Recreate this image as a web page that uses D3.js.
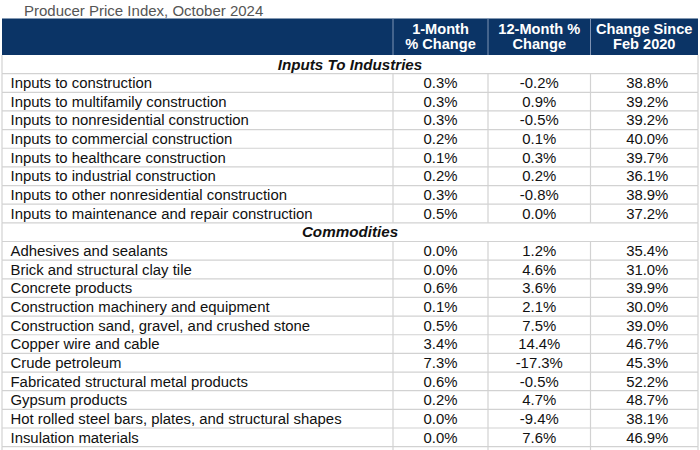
<!DOCTYPE html>
<html><head><meta charset="utf-8">
<script src="https://cdn.jsdelivr.net/npm/d3@7"></script>
<style>body{margin:0;background:#fff;}svg{display:block;}</style>
</head><body><svg id="c" width="700" height="450"></svg>
<script>
const title = "Producer Price Index, October 2024";
const headers = [["1-Month","% Change"],["12-Month %","Change"],["Change Since","Feb 2020"]];
const sectionNames = ["Inputs To Industries","Commodities"];
const industries = ["Inputs to construction","Inputs to multifamily construction","Inputs to nonresidential construction","Inputs to commercial construction","Inputs to healthcare construction","Inputs to industrial construction","Inputs to other nonresidential construction","Inputs to maintenance and repair construction"];
const ind1m = ["0.3%","0.3%","0.3%","0.2%","0.1%","0.2%","0.3%","0.5%"];
const ind12m = ["-0.2%","0.9%","-0.5%","0.1%","0.3%","0.2%","-0.8%","0.0%"];
const indFeb = ["38.8%","39.2%","39.2%","40.0%","39.7%","36.1%","38.9%","37.2%"];
const commodities = ["Adhesives and sealants","Brick and structural clay tile","Concrete products","Construction machinery and equipment","Construction sand, gravel, and crushed stone","Copper wire and cable","Crude petroleum","Fabricated structural metal products","Gypsum products","Hot rolled steel bars, plates, and structural shapes","Insulation materials"];
const com1m = ["0.0%","0.0%","0.6%","0.1%","0.5%","3.4%","7.3%","0.6%","0.2%","0.0%","0.0%"];
const com12m = ["1.2%","4.6%","3.6%","2.1%","7.5%","14.4%","-17.3%","-0.5%","4.7%","-9.4%","7.6%"];
const comFeb = ["35.4%","31.0%","39.9%","30.0%","39.0%","46.7%","45.3%","52.2%","48.7%","38.1%","46.9%"];

const rows = [];
rows.push({type:"section", label:sectionNames[0]});
industries.forEach((n,i)=>rows.push({type:"data", label:n, v:[ind1m[i],ind12m[i],indFeb[i]]}));
rows.push({type:"section", label:sectionNames[1]});
commodities.forEach((n,i)=>rows.push({type:"data", label:n, v:[com1m[i],com12m[i],comFeb[i]]}));

const svg = d3.select("#c");
const font = "'Liberation Sans', Arial, sans-serif";
const L = 2, R = 698, headTop = 18.5, headBot = 55, rowH = 18.65;
const colEdges = [L, 393, 488, 590.5, R];
const y = d3.scaleBand().domain(d3.range(rows.length + 1)).range([headBot, headBot + rowH*(rows.length+1)]).padding(0);
const fs = 14.9;

svg.append("text").attr("x",24).attr("y",15.5).attr("font-family",font).attr("font-size",15).attr("fill","#555").text(title);

// header band
svg.append("rect").attr("x",L).attr("y",headTop).attr("width",R-L).attr("height",headBot-headTop).attr("fill","#0b3466");
for (let k=1;k<4;k++){
  svg.append("line").attr("x1",colEdges[k]).attr("x2",colEdges[k]).attr("y1",headTop).attr("y2",headBot).attr("stroke","#7f93b3").attr("stroke-width",1);
}
headers.forEach((h,k)=>{
  const cx = (colEdges[k+1]+colEdges[k+2])/2;
  const t = svg.append("text").attr("text-anchor","middle").attr("font-family",font).attr("font-size",14.6).attr("font-weight","bold").attr("fill","#fff");
  t.append("tspan").attr("x",cx).attr("y",headTop+15.2).text(h[0]);
  t.append("tspan").attr("x",cx).attr("y",headTop+30.5).text(h[1]);
});

const g = svg.append("g");
rows.forEach((r,i)=>{
  const y0 = y(i), cy = y0 + rowH/2;
  if (r.type==="section"){
    g.append("text").attr("x",(L+R)/2).attr("y",cy+5.2).attr("text-anchor","middle").attr("font-family",font).attr("font-size",15.2).attr("font-weight","bold").attr("font-style","italic").attr("fill","#111").text(r.label);
  } else {
    g.append("text").attr("x",10.5).attr("y",cy+5.2).attr("font-family",font).attr("font-size",fs).attr("fill","#111").text(r.label);
    r.v.forEach((v,k)=>{
      const cx = (colEdges[k+1]+colEdges[k+2])/2 + (k===2?3:0);
      g.append("text").attr("x",cx).attr("y",cy+5.2).attr("text-anchor","middle").attr("font-family",font).attr("font-size",fs).attr("fill","#111").text(v);
    });
  }
  g.append("line").attr("x1",L).attr("x2",R).attr("y1",y0+rowH).attr("y2",y0+rowH).attr("stroke","#d2d2d2").attr("stroke-width",1.2);
  const xs = r.type==="data" ? [L,colEdges[1],colEdges[2],colEdges[3],R] : [L,R];
  xs.forEach(x=>{
    g.append("line").attr("x1",x).attr("x2",x).attr("y1",y0).attr("y2",y0+rowH).attr("stroke","#d2d2d2").attr("stroke-width",1.2);
  });
});
const yl = y(rows.length);
[L,colEdges[1],colEdges[2],colEdges[3],R].forEach(x=>{
  g.append("line").attr("x1",x).attr("x2",x).attr("y1",yl).attr("y2",450).attr("stroke","#d2d2d2").attr("stroke-width",1.2);
});
</script></body></html>
